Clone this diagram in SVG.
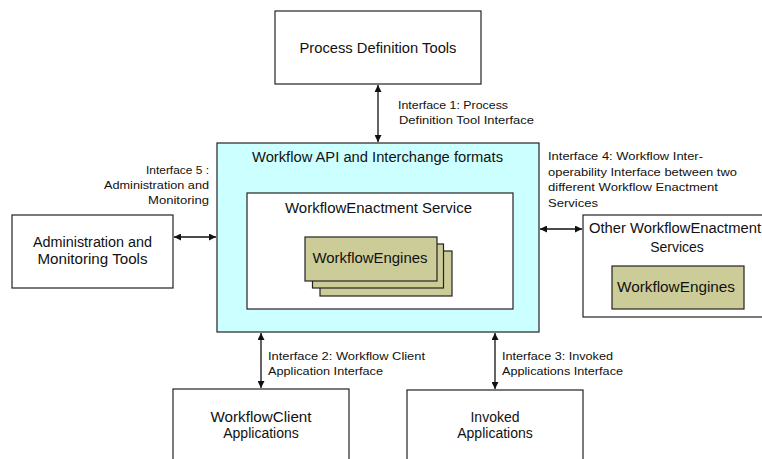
<svg xmlns="http://www.w3.org/2000/svg" width="762" height="459" viewBox="0 0 762 459">
<defs>
<style>
.box{fill:#fff;stroke:#222;stroke-width:1.2}
.api{fill:#ccffff;stroke:#222;stroke-width:1.2}
.eng{fill:#cccc99;stroke:#222;stroke-width:1.2}
.t{font-family:"Liberation Sans",Arial,sans-serif;font-size:14px;fill:#111;text-anchor:middle}
.l{font-family:"Liberation Sans",Arial,sans-serif;font-size:11px;fill:#111}
.r{text-anchor:end}
.c{stroke:#111;stroke-width:1.3;fill:none;marker-start:url(#ah);marker-end:url(#ah)}
</style>
<marker id="ah" viewBox="0 0 10 10" refX="10" refY="5" markerWidth="7" markerHeight="7" markerUnits="userSpaceOnUse" orient="auto-start-reverse">
<path d="M0,0 L10,5 L0,10 z" fill="#111"/>
</marker>
</defs>
<rect width="762" height="459" fill="#fff"/>

<g id="connectors">
<line class="c" x1="378" y1="85" x2="378" y2="142"/>
<line class="c" x1="174" y1="237" x2="216" y2="237"/>
<line class="c" x1="540" y1="229" x2="582" y2="229"/>
<line class="c" x1="261" y1="333" x2="261" y2="388"/>
<line class="c" x1="495" y1="333" x2="495" y2="389"/>
</g>

<g id="labels">
<text class="l" x="398" y="109" textLength="110" lengthAdjust="spacingAndGlyphs">Interface 1: Process</text>
<text class="l" x="399" y="124" textLength="135" lengthAdjust="spacingAndGlyphs">Definition Tool Interface</text>
<text class="l r" x="209" y="174" textLength="63" lengthAdjust="spacingAndGlyphs">Interface 5 :</text>
<text class="l r" x="209" y="189" textLength="105" lengthAdjust="spacingAndGlyphs">Administration and</text>
<text class="l r" x="209" y="204" textLength="61" lengthAdjust="spacingAndGlyphs">Monitoring</text>
<text class="l" x="548" y="160" textLength="155" lengthAdjust="spacingAndGlyphs">Interface 4: Workflow Inter-</text>
<text class="l" x="548" y="175.5" textLength="189" lengthAdjust="spacingAndGlyphs">operability Interface between two</text>
<text class="l" x="548" y="191" textLength="170" lengthAdjust="spacingAndGlyphs">different Workflow Enactment</text>
<text class="l" x="548" y="207" textLength="50" lengthAdjust="spacingAndGlyphs">Services</text>
<text class="l" x="268" y="360" textLength="157" lengthAdjust="spacingAndGlyphs">Interface 2: Workflow Client</text>
<text class="l" x="268" y="375" textLength="115" lengthAdjust="spacingAndGlyphs">Application Interface</text>
<text class="l" x="502" y="360" textLength="111" lengthAdjust="spacingAndGlyphs">Interface 3: Invoked</text>
<text class="l" x="502" y="375" textLength="121" lengthAdjust="spacingAndGlyphs">Applications Interface</text>
</g>

<g id="process-definition-tools">
<rect class="box" x="275" y="11" width="206" height="73"/>
<text class="t" x="378" y="53" textLength="157" lengthAdjust="spacingAndGlyphs">Process Definition Tools</text>
</g>

<g id="workflow-api">
<rect class="api" x="217" y="143" width="322" height="189"/>
<text class="t" x="377.5" y="161.5" textLength="251" lengthAdjust="spacingAndGlyphs">Workflow API and Interchange formats</text>
</g>

<g id="enactment-service">
<rect class="box" x="247" y="193" width="266" height="116"/>
<text class="t" x="378.5" y="213" textLength="187" lengthAdjust="spacingAndGlyphs">WorkflowEnactment Service</text>
</g>

<g id="workflow-engines">
<rect class="eng" x="320" y="251" width="132" height="45"/>
<rect class="eng" x="312.5" y="244" width="131" height="44"/>
<rect class="eng" x="305" y="237" width="132" height="44"/>
<text class="t" x="370" y="262.5" textLength="115" lengthAdjust="spacingAndGlyphs">WorkflowEngines</text>
</g>

<g id="admin-tools">
<rect class="box" x="12" y="215" width="161" height="73"/>
<text class="t" x="92.5" y="247" textLength="119" lengthAdjust="spacingAndGlyphs">Administration and</text>
<text class="t" x="92.5" y="264" textLength="110" lengthAdjust="spacingAndGlyphs">Monitoring Tools</text>
</g>

<g id="other-enactment">
<rect class="box" x="583" y="215" width="190" height="102"/>
<text class="t" x="675" y="233" textLength="172" lengthAdjust="spacingAndGlyphs">Other WorkflowEnactment</text>
<text class="t" x="677" y="252">Services</text>
<rect class="eng" x="612" y="266" width="132" height="43"/>
<text class="t" x="676" y="292" textLength="118" lengthAdjust="spacingAndGlyphs">WorkflowEngines</text>
</g>

<g id="client-applications">
<rect class="box" x="173" y="389" width="176" height="80"/>
<text class="t" x="261" y="422" textLength="101" lengthAdjust="spacingAndGlyphs">WorkflowClient</text>
<text class="t" x="261" y="438">Applications</text>
</g>

<g id="invoked-applications">
<rect class="box" x="407" y="390" width="176" height="80"/>
<text class="t" x="495" y="422">Invoked</text>
<text class="t" x="495" y="438">Applications</text>
</g>
</svg>
